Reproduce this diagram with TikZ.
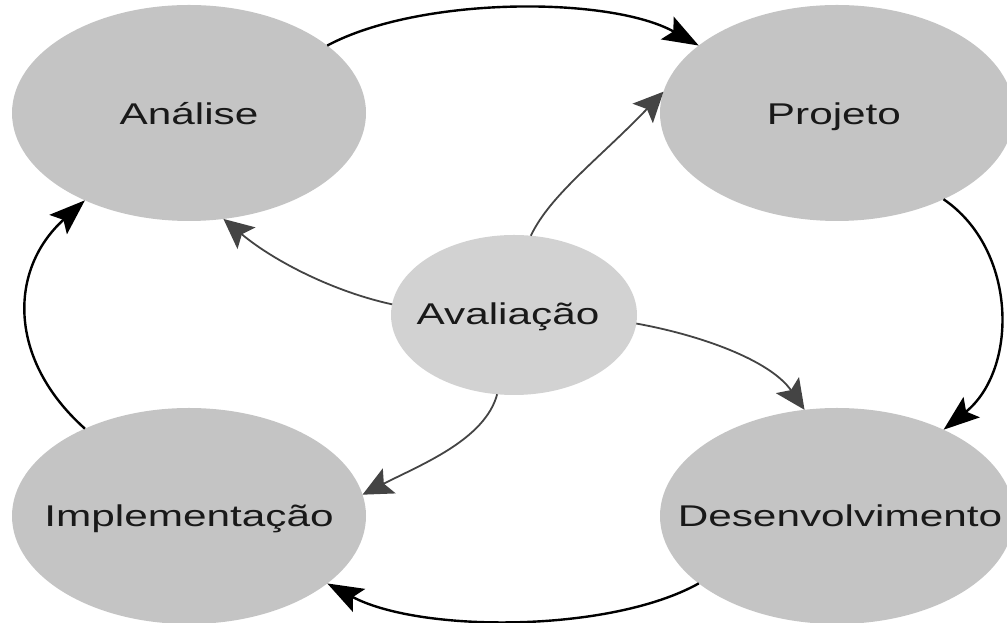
\documentclass[tikz,border=0pt]{standalone}
\usepackage{fontspec}
\newfontfamily\lab[FakeStretch=1.41]{Liberation Sans}
\usetikzlibrary{shapes.geometric,arrows.meta}
\definecolor{bigfill}{HTML}{C4C4C4}
\definecolor{smallfill}{HTML}{D2D2D2}
\definecolor{innerline}{HTML}{444444}
\tikzset{
  big/.style={ellipse, fill=bigfill, minimum width=354pt, minimum height=216pt, inner sep=0pt, outer sep=0pt},
  small/.style={ellipse, fill=smallfill, minimum width=246pt, minimum height=160pt, inner sep=0pt, outer sep=0pt},
  txt/.style={anchor=base, inner sep=0pt, font=\lab\fontsize{30}{36}\selectfont, text=black!90},
  outer/.style={draw=black, line width=2.4pt, -{Stealth[length=36pt,width=26pt,inset=7pt]}},
  inner/.style={draw=innerline, line width=1.8pt, -{Stealth[length=30pt,width=28pt,inset=6pt]}}
}
\begin{document}
\begin{tikzpicture}[x=1pt,y=1pt]
\clip (0,0) rectangle (1007,623);
\node[big] (A) at (189,510) {};
\node[big] (P) at (837,510) {};
\node[big] (I) at (189,107) {};
\node[big] (D) at (837,107) {};
\node[small] (V) at (514,308) {};
\node[txt] (tA) at (189,498) {Análise};
\node[txt] (tP) at (834,498) {Projeto};
\node[txt] (tI) at (189,96) {Implementação};
\node[txt] (tD) at (840,96) {Desenvolvimento};
\node[txt] (tV) at (508,298) {Avaliação};
% outer cycle
\draw[outer] (A.26) .. controls (420,627) and (610,627) .. (P.154);
\draw[outer] (P.-39) .. controls (1018,373) and (1018,253) .. (D.39);
\draw[outer] (D.206) .. controls (610,-10) and (420,-10) .. (I.-26);
\draw[outer] (I.140) .. controls (8,263) and (8,353) .. (A.220);
% inner arrows
\draw[inner] (V.175) .. controls (335,331) and (275,361) .. (A.-72);
\draw[inner] (V.78) .. controls (550,428) and (600,465) .. (P.173);
\draw[inner] (V.-4) .. controls (700,288) and (770,263) .. (D.107);
\draw[inner] (V.-102) .. controls (485,183) and (420,158) .. (I.7);
\end{tikzpicture}
\end{document}
